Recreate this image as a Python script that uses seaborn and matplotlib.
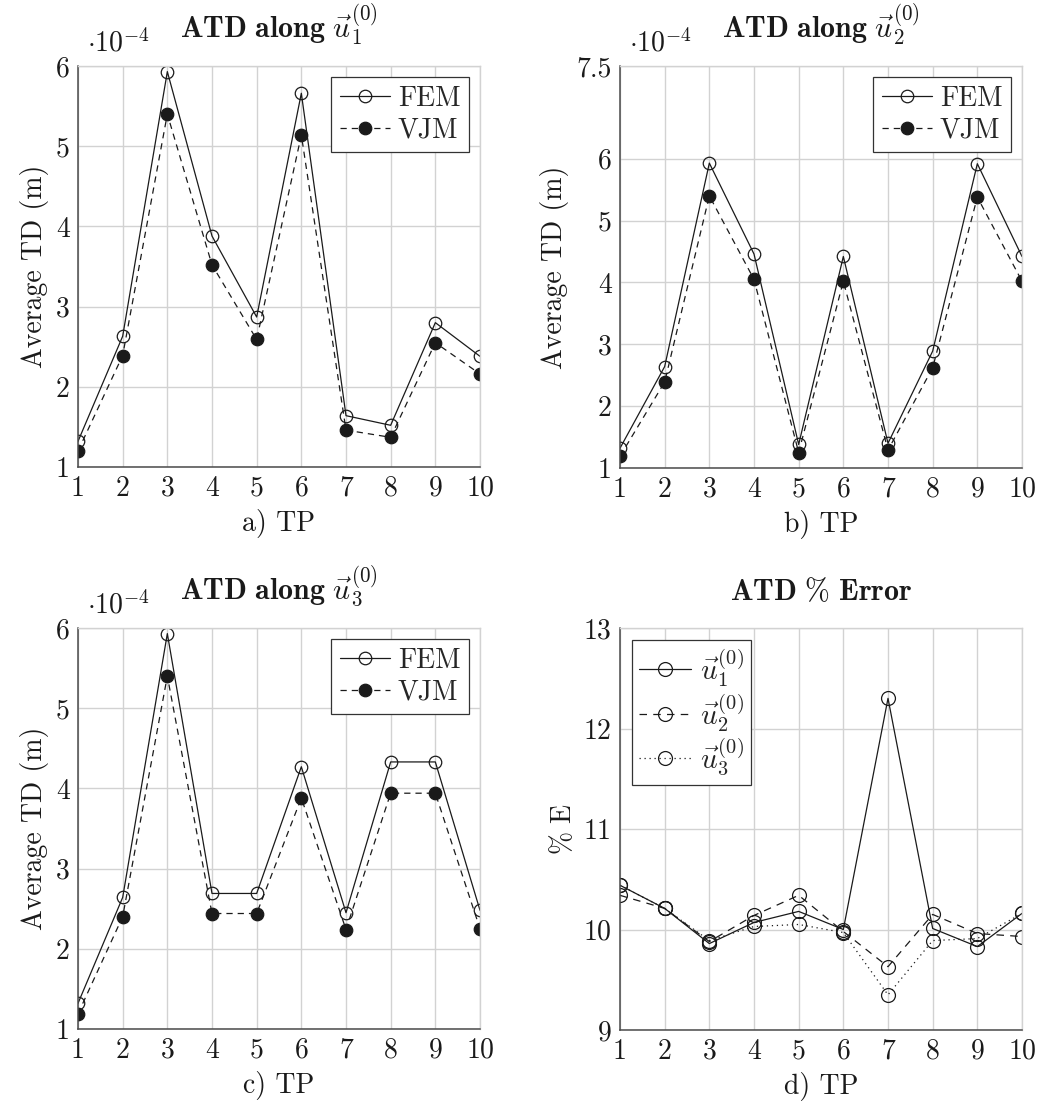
import matplotlib
matplotlib.use("Agg")
import matplotlib.pyplot as plt
import seaborn as sns
import pandas as pd

# ---------------- data ----------------
tp = [1, 2, 3, 4, 5, 6, 7, 8, 9, 10]

# average tip displacement, units of 1e-4 m
fem_u1 = [1.32, 2.63, 5.93, 3.88, 2.87, 5.66, 1.64, 1.52, 2.80, 2.38]
vjm_u1 = [1.20, 2.39, 5.40, 3.52, 2.59, 5.14, 1.46, 1.37, 2.55, 2.16]

fem_u2 = [1.32, 2.64, 5.93, 4.46, 1.38, 4.42, 1.40, 2.89, 5.92, 4.42]
vjm_u2 = [1.19, 2.39, 5.40, 4.05, 1.25, 4.02, 1.29, 2.62, 5.38, 4.02]

fem_u3 = [1.32, 2.64, 5.93, 2.69, 2.69, 4.27, 2.45, 4.33, 4.33, 2.48]
vjm_u3 = [1.19, 2.40, 5.40, 2.44, 2.44, 3.88, 2.24, 3.94, 3.94, 2.25]

# percentage error
err_u1 = [10.44, 10.21, 9.86, 10.07, 10.18, 10.00, 12.30, 10.01, 9.83, 10.16]
err_u2 = [10.34, 10.21, 9.88, 10.14, 10.34, 9.98, 9.63, 10.15, 9.96, 9.93]
err_u3 = [10.44, 10.21, 9.89, 10.03, 10.05, 9.97, 9.35, 9.89, 9.91, 10.16]

titles = [r"$\mathbf{ATD\ along}\ \vec{u}_1^{(0)}$",
          r"$\mathbf{ATD\ along}\ \vec{u}_2^{(0)}$",
          r"$\mathbf{ATD\ along}\ \vec{u}_3^{(0)}$",
          r"$\mathbf{ATD\ \%\ Error}$"]
xlabels = ["a) TP", "b) TP", "c) TP", "d) TP"]
err_labels = [r"$\vec{u}_1^{(0)}$", r"$\vec{u}_2^{(0)}$", r"$\vec{u}_3^{(0)}$"]

# ---------------- style ----------------
sns.set_style("white")
plt.rcParams["font.family"] = ["cmr10", "DejaVu Serif"]
plt.rcParams["mathtext.fontset"] = "cm"
plt.rcParams["axes.unicode_minus"] = False
plt.rcParams["axes.formatter.use_mathtext"] = True

TXT = "#1a1a1a"
GRID = "#d2d2d2"
AX = "#4a4a4a"
LINE = "#1a1a1a"
FS = 20

fig = plt.figure(figsize=(10.39, 11.04), dpi=100)
W, H = 1039, 1104


def make_ax(x0, x1, y0, y1):
    return fig.add_axes([x0 / W, 1 - y1 / H, (x1 - x0) / W, (y1 - y0) / H])


ax_a = make_ax(78, 480, 66, 467)
ax_b = make_ax(620, 1022, 66, 468)
ax_c = make_ax(78, 480, 628, 1029)
ax_d = make_ax(620, 1022, 628, 1030)


def style(ax, ylim, yticks, title, xlabel, ylabel, pad, offset=True):
    ax.set_xlim(1, 10)
    ax.set_ylim(*ylim)
    ax.set_xticks(tp)
    ax.set_xticklabels([str(t) for t in tp])
    ax.set_yticks(yticks)
    ax.set_yticklabels([("%g" % v) for v in yticks])
    ax.grid(True, color=GRID, lw=1.0)
    ax.set_axisbelow(True)
    for s in ["left", "bottom"]:
        ax.spines[s].set_color(AX)
        ax.spines[s].set_linewidth(1.1)
    for s in ["top", "right"]:
        ax.spines[s].set_color(GRID)
        ax.spines[s].set_linewidth(1.0)
    ax.tick_params(length=0, labelsize=FS, pad=6, colors=TXT)
    ax.set_title(title, fontsize=21.5, pad=pad, color=TXT)
    ax.set_xlabel(xlabel, fontsize=FS, color=TXT, labelpad=5)
    ax.set_ylabel(ylabel, fontsize=FS, color=TXT, labelpad=5)
    if offset:
        ax.text(0.022, 1.02, r"$\cdot 10^{-4}$", transform=ax.transAxes,
                ha="left", va="bottom", fontsize=FS, color=TXT)


def draw_pair(ax, fem, vjm):
    df = pd.DataFrame({"TP": tp, "FEM": fem, "VJM": vjm})
    sns.lineplot(data=df, x="TP", y="FEM", ax=ax, color=LINE, lw=0.9,
                 linestyle="-", marker="o", markersize=9,
                 markerfacecolor="none", markeredgecolor=LINE,
                 markeredgewidth=0.9, label="FEM")
    sns.lineplot(data=df, x="TP", y="VJM", ax=ax, color=LINE, lw=0.9,
                 linestyle=(0, (5, 4)), marker="o", markersize=9,
                 markerfacecolor=LINE, markeredgecolor=LINE,
                 markeredgewidth=0.9, label="VJM")
    leg = ax.legend(loc="upper right", fontsize=FS, frameon=True, fancybox=False,
                    edgecolor="#333333", framealpha=1, borderaxespad=0.4,
                    handlelength=1.8, handletextpad=0.3, borderpad=0.3,
                    labelspacing=0.2)
    leg.get_frame().set_linewidth(0.9)


draw_pair(ax_a, fem_u1, vjm_u1)
style(ax_a, (1, 6), [1, 2, 3, 4, 5, 6], titles[0], xlabels[0], "Average TD (m)", 21)

draw_pair(ax_b, fem_u2, vjm_u2)
style(ax_b, (1, 7.5), [1, 2, 3, 4, 5, 6, 7.5], titles[1], xlabels[1], "Average TD (m)", 21)

draw_pair(ax_c, fem_u3, vjm_u3)
style(ax_c, (1, 6), [1, 2, 3, 4, 5, 6], titles[2], xlabels[2], "Average TD (m)", 21)

# error panel
dfe = pd.DataFrame({"TP": tp, "u1": err_u1, "u2": err_u2, "u3": err_u3})
styles = ["-", (0, (6, 5)), (0, (1, 3))]
for col, ls, lab in zip(["u1", "u2", "u3"], styles, err_labels):
    sns.lineplot(data=dfe, x="TP", y=col, ax=ax_d, color=LINE, lw=0.9,
                 linestyle=ls, marker="o", markersize=10,
                 markerfacecolor="none", markeredgecolor=LINE,
                 markeredgewidth=0.9, label=lab)
leg = ax_d.legend(loc="upper left", fontsize=21, frameon=True, fancybox=False,
                  edgecolor="#333333", framealpha=1, borderaxespad=0.4,
                  handlelength=1.8, handletextpad=0.3, borderpad=0.25,
                  labelspacing=0.1)
leg.get_frame().set_linewidth(0.9)
style(ax_d, (9, 13), [9, 10, 11, 12, 13], titles[3], xlabels[3], r"$\%\ \mathrm{E}$", 20,
      offset=False)

fig.savefig("out.png", dpi=100)
